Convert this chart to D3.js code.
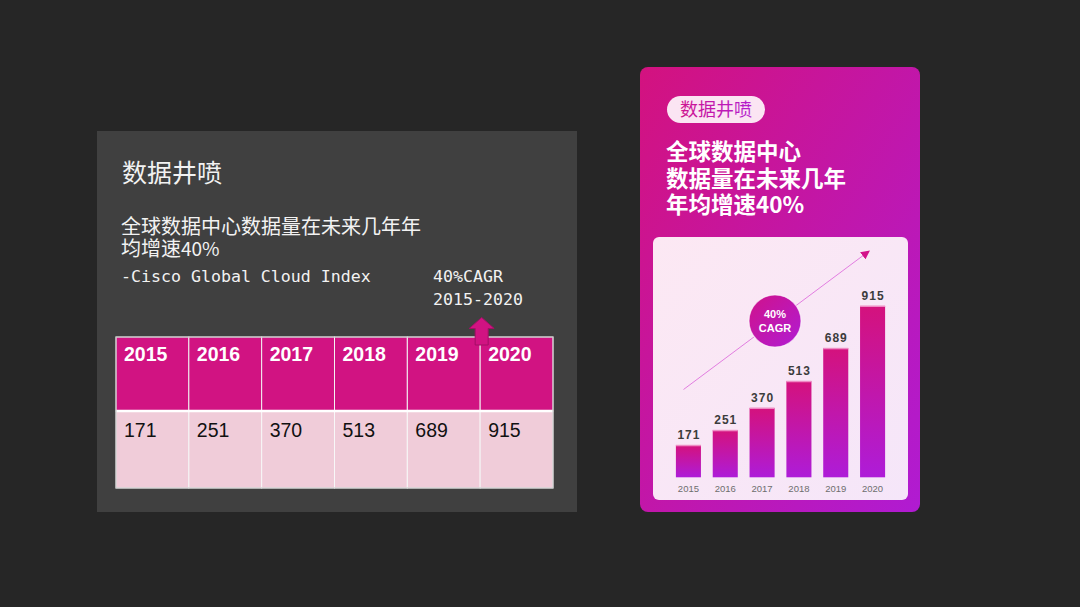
<!DOCTYPE html>
<html>
<head>
<meta charset="utf-8">
<script src="https://cdn.jsdelivr.net/npm/d3@7"></script>
<style>
  html, body { margin: 0; padding: 0; background: #262626; }
  svg { display: block; }
</style>
</head>
<body>
<script>
// Data
const years = ['2015', '2016', '2017', '2018', '2019', '2020'];
const values = [171, 251, 370, 513, 689, 915];
const tagText = '数据井喷';
const leftLines = ['全球数据中心数据量在未来几年年', '均增速'];
const growthText = '40%';
const sourceText = '-Cisco Global Cloud Index';
const cagrLines = ['40%CAGR', '2015-2020'];
const rightTitle = ['全球数据中心', '数据量在未来几年', '年均增速40%'];
const badgeLines = ['40%', 'CAGR'];

const cjk = '"Noto Sans CJK SC", "Noto Sans", sans-serif';
const mono = '"DejaVu Sans Mono", "Liberation Mono", monospace';
const sans = '"Liberation Sans", Arial, sans-serif';

const svg = d3.select('body').append('svg')
    .attr('width', 1080)
    .attr('height', 607);

const defs = svg.append('defs');

function linearGrad(id, x1, y1, x2, y2, stops) {
    const g = defs.append('linearGradient')
        .attr('id', id)
        .attr('x1', x1).attr('y1', y1).attr('x2', x2).attr('y2', y2);
    stops.forEach(function (s) {
        g.append('stop').attr('offset', s[0]).attr('stop-color', s[1]);
    });
}

linearGrad('panelGrad', '0%', '0%', '100%', '100%', [[0, '#d3127f'], [1, '#b01bd2']]);
linearGrad('cardGrad', '0%', '0%', '100%', '100%', [[0, '#fce8f3'], [1, '#f5e6f9']]);
linearGrad('barGrad', '0%', '0%', '0%', '100%', [[0, '#d4127d'], [1, '#ae1cd8']]);
linearGrad('badgeGrad', '0%', '0%', '100%', '100%', [[0, '#d0128a'], [1, '#b01cd4']]);
linearGrad('tagTextGrad', '0%', '0%', '100%', '0%', [[0, '#cf1490'], [1, '#b31ccf']]);

// ---------- Left panel ----------
svg.append('rect')
    .attr('x', 97).attr('y', 131)
    .attr('width', 480).attr('height', 381)
    .attr('fill', '#404040');

svg.append('text')
    .attr('x', 122).attr('y', 182)
    .attr('font-family', cjk)
    .attr('font-size', 25)
    .attr('fill', '#f2f2f2')
    .text(tagText);

svg.append('text')
    .attr('x', 121).attr('y', 234)
    .attr('font-family', cjk)
    .attr('font-size', 20)
    .attr('fill', '#f2f2f2')
    .text(leftLines[0]);

const line2 = svg.append('text')
    .attr('x', 121).attr('y', 256)
    .attr('font-family', cjk)
    .attr('font-size', 20)
    .attr('fill', '#f2f2f2');
line2.append('tspan').text(leftLines[1]);
line2.append('tspan').attr('font-size', 19).text(growthText);

svg.append('text')
    .attr('x', 121).attr('y', 282)
    .attr('font-family', mono)
    .attr('font-size', 16.6)
    .attr('fill', '#f2f2f2')
    .text(sourceText);

svg.selectAll('.cagr-text')
    .data(cagrLines)
    .join('text')
    .attr('class', 'cagr-text')
    .attr('x', 433)
    .attr('y', function (d, i) { return 282 + i * 23; })
    .attr('font-family', mono)
    .attr('font-size', 16.6)
    .attr('fill', '#f2f2f2')
    .text(function (d) { return d; });

// Table
const col = d3.scaleBand().domain(years).range([116, 553]);
const headTop = 337, headBottom = 411, rowBottom = 488;

const table = svg.append('g');

table.selectAll('.head-cell')
    .data(years)
    .join('rect')
    .attr('class', 'head-cell')
    .attr('x', function (d) { return col(d); })
    .attr('y', headTop)
    .attr('width', col.bandwidth())
    .attr('height', headBottom - headTop)
    .attr('fill', '#d11382')
    .attr('stroke', '#f4f4f4')
    .attr('stroke-width', 1);

table.selectAll('.data-cell')
    .data(values)
    .join('rect')
    .attr('class', 'data-cell')
    .attr('x', function (d, i) { return col(years[i]); })
    .attr('y', headBottom)
    .attr('width', col.bandwidth())
    .attr('height', rowBottom - headBottom)
    .attr('fill', '#f0ccd9')
    .attr('stroke', '#f8f8f8')
    .attr('stroke-width', 1);

// thicker white line between header and body
table.append('line')
    .attr('x1', 116).attr('x2', 553)
    .attr('y1', headBottom).attr('y2', headBottom)
    .attr('stroke', '#ffffff')
    .attr('stroke-width', 2.5);

table.append('rect')
    .attr('x', 116).attr('y', headTop)
    .attr('width', 437).attr('height', rowBottom - headTop)
    .attr('fill', 'none')
    .attr('stroke', '#c4c4c4')
    .attr('stroke-width', 1);

table.selectAll('.head-text')
    .data(years)
    .join('text')
    .attr('class', 'head-text')
    .attr('x', function (d) { return col(d) + 8; })
    .attr('y', 361)
    .attr('font-family', sans)
    .attr('font-weight', 'bold')
    .attr('font-size', 19.5)
    .attr('fill', '#ffffff')
    .text(function (d) { return d; });

table.selectAll('.data-text')
    .data(values)
    .join('text')
    .attr('class', 'data-text')
    .attr('x', function (d, i) { return col(years[i]) + 8; })
    .attr('y', 437)
    .attr('font-family', sans)
    .attr('font-size', 19.5)
    .attr('fill', '#111111')
    .text(function (d) { return d; });

// Up arrow pointing at the CAGR note, sitting on the 2019/2020 border
const ax = col('2020') + 1.5;
svg.append('path')
    .attr('d', 'M' + ax + ',317.5 L' + (ax + 12.5) + ',328.5 L' + (ax + 6.5) + ',328.5 L' + (ax + 6.5) + ',345'
        + ' L' + (ax - 6.5) + ',345 L' + (ax - 6.5) + ',328.5 L' + (ax - 12.5) + ',328.5 Z')
    .attr('fill', '#d11382')
    .attr('stroke', '#a30f66')
    .attr('stroke-width', 1);

// ---------- Right panel ----------
svg.append('rect')
    .attr('x', 640).attr('y', 67)
    .attr('width', 280).attr('height', 445)
    .attr('rx', 8)
    .attr('fill', 'url(#panelGrad)');

svg.append('rect')
    .attr('x', 667).attr('y', 96)
    .attr('width', 98).attr('height', 27)
    .attr('rx', 13.5)
    .attr('fill', '#fbe5f3');

svg.append('text')
    .attr('x', 716).attr('y', 115.5)
    .attr('text-anchor', 'middle')
    .attr('font-family', cjk)
    .attr('font-size', 18)
    .attr('fill', 'url(#tagTextGrad)')
    .text(tagText);

svg.selectAll('.r-title')
    .data(rightTitle)
    .join('text')
    .attr('class', 'r-title')
    .attr('x', 666)
    .attr('y', function (d, i) { return 160 + i * 26.5; })
    .attr('font-family', cjk)
    .attr('font-weight', 'bold')
    .attr('font-size', 22.5)
    .attr('fill', '#ffffff')
    .text(function (d) { return d; });

svg.append('rect')
    .attr('x', 653).attr('y', 237)
    .attr('width', 255).attr('height', 263)
    .attr('rx', 6)
    .attr('fill', 'url(#cardGrad)');

const x = d3.scaleBand()
    .domain(years)
    .range([670, 891])
    .paddingInner(0.32)
    .paddingOuter(0.16);

const y = d3.scaleLinear()
    .domain([0, 915])
    .range([477.3, 306]);

// Trend arrow
defs.append('marker')
    .attr('id', 'arrowHead')
    .attr('viewBox', '0 0 10 10')
    .attr('refX', 8).attr('refY', 5)
    .attr('markerWidth', 9).attr('markerHeight', 9)
    .attr('markerUnits', 'userSpaceOnUse')
    .attr('orient', 'auto')
    .append('path')
    .attr('d', 'M0,0 L10,5 L0,10 Z')
    .attr('fill', '#d3128a');

svg.append('line')
    .attr('x1', 683.5).attr('y1', 389.5)
    .attr('x2', 868.5).attr('y2', 251.5)
    .attr('stroke', '#e27de0')
    .attr('stroke-width', 1)
    .attr('marker-end', 'url(#arrowHead)');

// Bars
const bars = svg.append('g');

bars.selectAll('.bar')
    .data(values)
    .join('rect')
    .attr('class', 'bar')
    .attr('x', function (d, i) { return x(years[i]); })
    .attr('y', function (d) { return y(d); })
    .attr('width', x.bandwidth())
    .attr('height', function (d) { return y(0) - y(d); })
    .attr('fill', 'url(#barGrad)');

bars.selectAll('.bar-top')
    .data(values)
    .join('rect')
    .attr('class', 'bar-top')
    .attr('x', function (d, i) { return x(years[i]); })
    .attr('y', function (d) { return y(d) - 0.5; })
    .attr('width', x.bandwidth())
    .attr('height', 1.5)
    .attr('fill', '#ee8cc4');

bars.selectAll('.bar-label')
    .data(values)
    .join('text')
    .attr('class', 'bar-label')
    .attr('x', function (d, i) { return x(years[i]) + x.bandwidth() / 2 + 0.5; })
    .attr('y', function (d) { return y(d) - 6.5; })
    .attr('text-anchor', 'middle')
    .attr('font-family', sans)
    .attr('font-weight', 'bold')
    .attr('font-size', 12)
    .attr('letter-spacing', 1)
    .attr('fill', '#3c3c3c')
    .text(function (d) { return d; });

bars.selectAll('.year-label')
    .data(years)
    .join('text')
    .attr('class', 'year-label')
    .attr('x', function (d) { return x(d) + x.bandwidth() / 2; })
    .attr('y', 492)
    .attr('text-anchor', 'middle')
    .attr('font-family', sans)
    .attr('font-size', 9.5)
    .attr('fill', '#6e6e6e')
    .text(function (d) { return d; });

// CAGR badge
const badge = svg.append('g').attr('transform', 'translate(775,321)');

badge.append('circle')
    .attr('r', 26)
    .attr('fill', 'url(#badgeGrad)')
    .attr('stroke', '#ffffff')
    .attr('stroke-opacity', 0.6)
    .attr('stroke-width', 1.2);

badge.selectAll('text')
    .data(badgeLines)
    .join('text')
    .attr('x', 0)
    .attr('y', function (d, i) { return -3 + i * 13.5; })
    .attr('text-anchor', 'middle')
    .attr('font-family', sans)
    .attr('font-weight', 'bold')
    .attr('font-size', 11)
    .attr('fill', '#ffffff')
    .text(function (d) { return d; });
</script>
</body>
</html>
